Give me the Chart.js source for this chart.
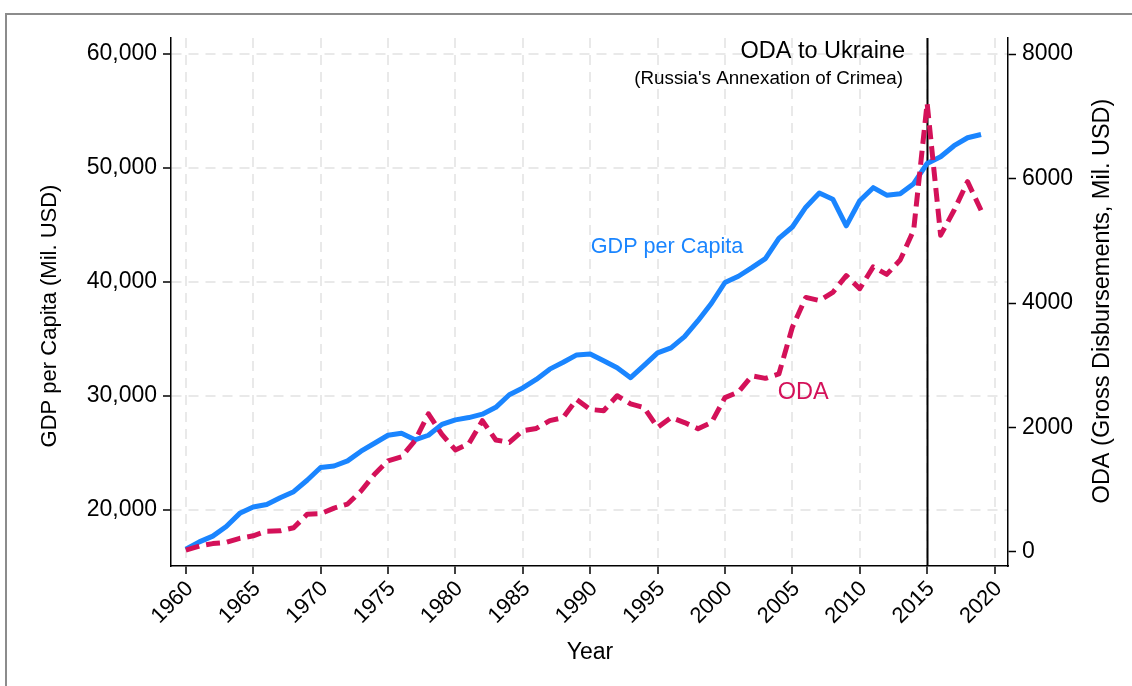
<!DOCTYPE html>
<html>
<head>
<meta charset="utf-8">
<script src="https://cdn.jsdelivr.net/npm/chart.js@4.4.1/dist/chart.umd.min.js"></script>
<style>
  body { margin: 0; background: #fff; }
  #frame { position: absolute; left: 5px; top: 13px; width: 1200px; height: 760px; border-left: 2px solid #8c8c8c; border-top: 2px solid #8c8c8c; }
  #chart { position: absolute; left: 0; top: 0; }
</style>
</head>
<body>
<div id="frame"></div>
<canvas id="chart" width="1132" height="686"></canvas>
<script>
const years = [];
for (let y = 1960; y <= 2019; y++) years.push(y);

// GDP per capita (left axis)
const gdp = [16550, 17200, 17700, 18550, 19700, 20250, 20480, 21070, 21600, 22600,
    23720, 23850, 24300, 25150, 25850, 26550, 26720, 26150, 26550, 27500,
    27900, 28100, 28400, 29000, 30100, 30700, 31450, 32350, 32950, 33600,
    33680, 33080, 32480, 31600, 32680, 33780, 34220, 35200, 36600, 38130,
    39950, 40500, 41250, 42050, 43820, 44820, 46560, 47800, 47260, 44920,
    47120, 48270, 47610, 47740, 48620, 50400, 50980, 51950, 52650, 52930];

// ODA gross disbursements (right axis)
const oda = [30, 95, 135, 155, 220, 260, 335, 340, 390, 605,
    615, 705, 770, 980, 1250, 1465, 1530, 1790, 2220, 1890,
    1640, 1740, 2110, 1800, 1760, 1950, 1985, 2110, 2160, 2450,
    2290, 2270, 2510, 2380, 2320, 2000, 2160, 2080, 1980, 2080,
    2480, 2570, 2830, 2790, 2860, 3610, 4090, 4040, 4170, 4440,
    4230, 4580, 4460, 4690, 5170, 7210, 5090, 5490, 5950, 5490];

const xTicks = [1960, 1965, 1970, 1975, 1980, 1985, 1990, 1995, 2000, 2005, 2010, 2015, 2020];
const gdpTicks = [20000, 30000, 40000, 50000, 60000];
const odaTicks = [0, 2000, 4000, 6000, 8000];
const eventYear = 2015;

const BLUE = '#1A85FF', RED = '#D41159';
const FONT = '"Liberation Sans", Arial, sans-serif';

const grid = { color: '#e9e9e9', lineWidth: 2, tickColor: '#000', tickLength: 8, tickWidth: 1.5, tickBorderDash: [] };
const border = { color: '#000', width: 1.5, dash: [10, 7] };

// vertical line + text annotations
const annot = {
    id: 'annot',
    beforeDatasetsDraw(chart) {
        const ctx = chart.ctx, a = chart.chartArea;
        const x = Math.round(chart.scales.x.getPixelForValue(eventYear)) + 0.5;
        ctx.save();
        ctx.strokeStyle = '#000';
        ctx.lineWidth = 2;
        ctx.beginPath(); ctx.moveTo(x, a.top); ctx.lineTo(x, a.bottom); ctx.stroke();
        ctx.restore();
    },
    afterDraw(chart) {
        const ctx = chart.ctx, sx = chart.scales.x, sy = chart.scales.y, sy2 = chart.scales.y2;
        ctx.save();
        ctx.textBaseline = 'middle';
        ctx.fillStyle = '#000';
        ctx.textAlign = 'right';
        ctx.font = '23.5px ' + FONT;
        ctx.fillText('ODA to Ukraine', 905, 52);
        ctx.font = '18.8px ' + FONT;
        ctx.fillText("(Russia's Annexation of Crimea)", 903, 79);

        ctx.textAlign = 'center';
        ctx.font = '21.6px ' + FONT;
        ctx.fillStyle = BLUE;
        ctx.fillText('GDP per Capita', sx.getPixelForValue(1995.7), sy.getPixelForValue(43040));
        ctx.font = '23.5px ' + FONT;
        ctx.fillStyle = RED;
        ctx.fillText('ODA', sx.getPixelForValue(2005.8), sy2.getPixelForValue(2560));

        ctx.fillStyle = '#000';
        ctx.font = '23px ' + FONT;
        ctx.fillText('Year', 590, 653);
        ctx.font = '22px ' + FONT;
        ctx.translate(50, 316);
        ctx.rotate(-Math.PI / 2);
        ctx.fillText('GDP per Capita (Mil. USD)', 0, 0);
        ctx.restore();
        ctx.save();
        ctx.fillStyle = '#000';
        ctx.textAlign = 'center';
        ctx.textBaseline = 'middle';
        ctx.font = '23.5px ' + FONT;
        ctx.translate(1103, 301);
        ctx.rotate(-Math.PI / 2);
        ctx.fillText('ODA (Gross Disbursements, Mil. USD)', 0, 0);
        ctx.restore();
    }
};

new Chart(document.getElementById('chart'), {
    type: 'line',
    data: {
        datasets: [
            { label: 'GDP per Capita', data: years.map((y, i) => ({ x: y, y: gdp[i] })), yAxisID: 'y',
              borderColor: BLUE, borderWidth: 5, pointRadius: 0, tension: 0, order: 1, borderJoinStyle: 'round' },
            { label: 'ODA', data: years.map((y, i) => ({ x: y, y: oda[i] })), yAxisID: 'y2',
              borderColor: RED, borderWidth: 5, borderDash: [14, 7], pointRadius: 0, tension: 0, order: 0, borderJoinStyle: 'round' }
        ]
    },
    options: {
        responsive: false,
        animation: false,
        devicePixelRatio: 1,
        layout: { padding: { top: 38, left: 0, right: 0, bottom: 0 } },
        plugins: { legend: { display: false }, tooltip: { enabled: false } },
        scales: {
            x: {
                type: 'linear', min: 1958.9, max: 2021,
                afterBuildTicks: s => { s.ticks = xTicks.map(v => ({ value: v })); },
                afterFit: s => { s.height = 120; },
                ticks: { color: '#000', font: { size: 22, family: FONT }, minRotation: 45, maxRotation: 45, padding: 2, labelOffset: 4, callback: v => String(v) },
                grid: grid,
                border: border
            },
            y: {
                position: 'left', min: 15080, max: 61400,
                afterBuildTicks: s => { s.ticks = gdpTicks.map(v => ({ value: v })); },
                afterFit: s => { s.width = 171; },
                ticks: { color: '#000', font: { size: 23, family: FONT }, padding: 6, callback: v => v.toLocaleString('en-US') },
                grid: grid,
                border: border
            },
            y2: {
                position: 'right', min: -225, max: 8258,
                afterBuildTicks: s => { s.ticks = odaTicks.map(v => ({ value: v })); },
                afterFit: s => { s.width = 124; },
                ticks: { color: '#000', font: { size: 23, family: FONT }, padding: 6, callback: v => String(v) },
                grid: { drawOnChartArea: false, tickColor: '#000', tickLength: 8, tickWidth: 1.5 },
                border: { color: '#000', width: 1.5 }
            }
        }
    },
    plugins: [annot]
});
</script>
</body>
</html>
